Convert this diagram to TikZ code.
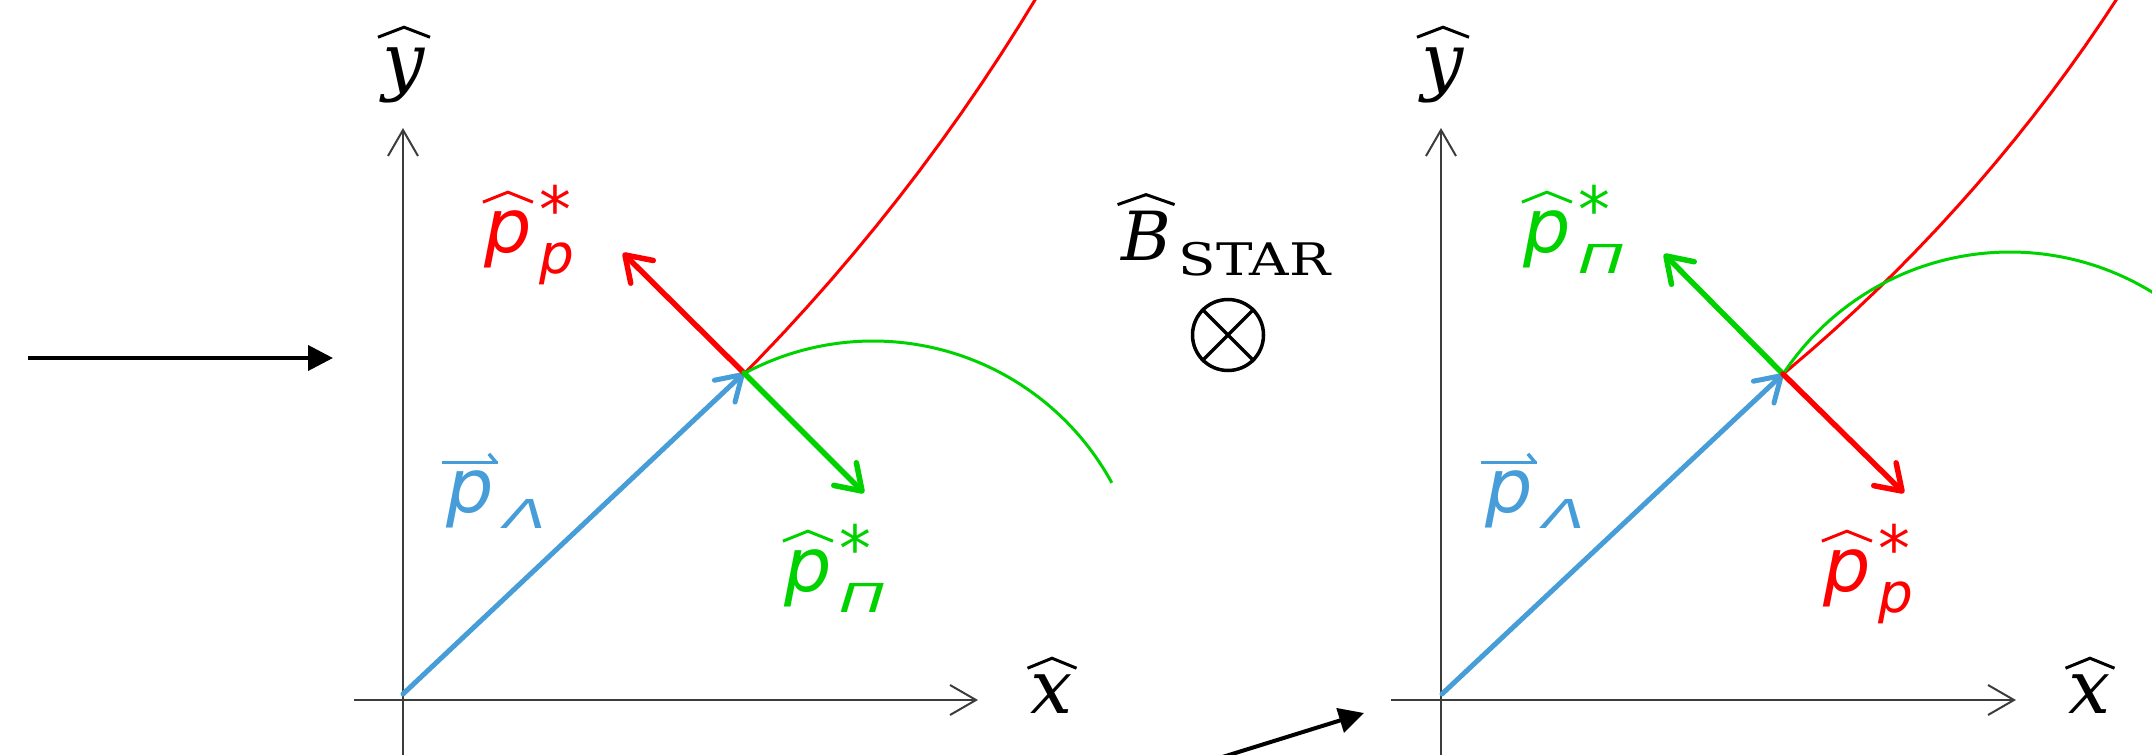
\RequirePackage{fix-cm}
\documentclass[tikz,border=0pt]{standalone}
\usepackage{fontspec}
\setmainfont{DejaVu Serif}
\newfontfamily\sansfnt{DejaVu Sans}
\usetikzlibrary{arrows.meta,calc}
\definecolor{pred}{RGB}{255,0,0}
\definecolor{pgreen}{RGB}{0,210,0}
\definecolor{pblue}{RGB}{70,157,216}
\definecolor{axisgray}{RGB}{60,60,60}
% accent laid over a base without changing its width: #1 gap, #2 accent, #3 base
\newcommand\overlay[3]{\setbox0\hbox{#3}\rlap{\hbox to \wd0{\hss\raisebox{\dimexpr\ht0+#1\relax}{#2}\hss}}\box0}
\newcommand\hatglyph[1]{\tikz[x=1bp,y=1bp,baseline=0pt]\draw[line width=3bp,line join=miter,line cap=butt] (0,0) -- ({#1/2},10) -- (#1,0);}
\newcommand\harpglyph{\hbox{\rule{56bp}{3.5bp}\llap{\rotatebox[origin=br]{-50}{\rule{12bp}{3.5bp}}}}}
\newcommand\gk[1]{{\fontsize{40}{40}\selectfont\scalebox{1.55}[1]{#1}}}
\newcommand\subp{{\fontsize{55}{55}\selectfont p}}
% p-hat with star and subscript: #1 kern, #2 subscript
\newcommand\hatp[2]{\overlay{8bp}{\hatglyph{50}}{p}\kern#1\rlap{\raisebox{20bp}{\upshape\fontsize{64}{64}\selectfont *}}\raisebox{-21bp}{#2}}
\newcommand\vecp[2]{\overlay{6bp}{\harpglyph}{p}\kern#1\raisebox{-16bp}{#2}}
\tikzset{
  axisline/.style={draw=axisgray, line width=2bp, -{Straight Barb[length=26bp,width=30bp]}},
  vecblue/.style={draw=pblue, line width=5bp, line cap=round, -{Straight Barb[length=24bp,width=30bp,round]}},
  vecred/.style={draw=pred, line width=5.5bp, line cap=round, -{Straight Barb[length=24bp,width=32bp,round]}},
  vecgreen/.style={draw=pgreen, line width=5.5bp, line cap=round, -{Straight Barb[length=24bp,width=32bp,round]}},
  trackred/.style={draw=pred, line width=3bp},
  trackgreen/.style={draw=pgreen, line width=3bp},
  bigarrow/.style={draw=black, line width=4bp, -{Triangle[length=25bp,width=25bp]}},
  axlabel/.style={font=\itshape\fontsize{75}{75}\selectfont, inner sep=0pt, anchor=base},
  plabel/.style={font=\sansfnt\itshape\fontsize{75}{75}\selectfont, inner sep=0pt, anchor=base west},
}
\begin{document}
\begin{tikzpicture}[x=1bp,y=-1bp]
\path[use as bounding box] (0,0) rectangle (2152,755);
\clip (0,0) rectangle (2152,755);
% ---------- coordinates, left panel
\coordinate (O1) at (403,694);
\coordinate (V1) at (744,373);
\coordinate (R1) at (623,253);
\coordinate (G1) at (864,493);
\coordinate (Y1b) at (403,760);
\coordinate (Y1t) at (403,128);
\coordinate (X1l) at (354,700);
\coordinate (X1t) at (978,700);
% ---------- coordinates, right panel
\coordinate (O2) at (1442,694);
\coordinate (V2) at (1783,374);
\coordinate (G2) at (1664,254);
\coordinate (R2) at (1904,493);
\coordinate (Y2b) at (1441,760);
\coordinate (Y2t) at (1441,128);
\coordinate (X2l) at (1391,700);
\coordinate (X2t) at (2016,700);
% ---------- black arrows
\coordinate (A1s) at (28,358);
\coordinate (A1t) at (333,358);
\coordinate (A2s) at (1200,764);
\coordinate (A2t) at (1364,713);
\draw[bigarrow] (A1s) -- (A1t);
\draw[bigarrow] (A2s) -- (A2t);
% ---------- axes
\draw[axisline] (X1l) -- (X1t);
\draw[axisline] (Y1b) -- (Y1t);
\draw[axisline] (X2l) -- (X2t);
\draw[axisline] (Y2b) -- (Y2t);
% ---------- tracks
\draw[trackred] plot[domain=44.56:30, samples=80, variable=\t] ({-698.2+2025.6*cos(\t)}, {-1048.3+2025.6*sin(\t)});
\draw[trackgreen] plot[domain=-118.1:-28.6, samples=80, variable=\t] ({873+272*cos(\t)}, {613+272*sin(\t)});
\draw[trackred] plot[domain=50.27:32, samples=80, variable=\t] ({712.1+1675.8*cos(\t)}, {-914.8+1675.8*sin(\t)});
\draw[trackgreen] plot[domain=-146.55:-40, samples=80, variable=\t] ({2010+272*cos(\t)}, {524+272*sin(\t)});
% ---------- vectors
\draw[vecblue] (O1) -- (V1);
\draw[vecred] (V1) -- (R1);
\draw[vecgreen] (V1) -- (G1);
\draw[vecblue] (O2) -- (V2);
\draw[vecgreen] (V2) -- (G2);
\draw[vecred] (V2) -- (R2);
% ---------- axis labels
\node[axlabel] (ylab1) at (404,87) {\overlay{11bp}{\hatglyph{52}}{y}};
\node[axlabel] (xlab1) at (1052,713) {\overlay{6bp}{\hatglyph{49}}{x}};
\node[axlabel] (ylab2) at (1443,87) {\overlay{11bp}{\hatglyph{52}}{y}};
\node[axlabel] (xlab2) at (2090,713) {\overlay{6bp}{\hatglyph{49}}{x}};
% ---------- momentum labels
\node[plabel, text=pred] (pp1) at (484,252) {\hatp{8bp}{\subp}};
\node[plabel, text=pgreen] (ppi1) at (784,591) {\hatp{8bp}{\gk{Π}}};
\node[plabel, text=pblue] (pl1) at (446,512) {\vecp{11bp}{\gk{Λ}}};
\node[plabel, text=pgreen] (ppi2) at (1523,252) {\hatp{8bp}{\gk{Π}}};
\node[plabel, text=pred] (pp2) at (1823,591) {\hatp{8bp}{\subp}};
\node[plabel, text=pblue] (pl2) at (1485,512) {\vecp{11bp}{\gk{Λ}}};
% ---------- magnetic field
\node[inner sep=0pt, anchor=base west, font=\fontsize{68}{68}\selectfont] (blab) at (1121,260)
  {\overlay{6bp}{\hatglyph{57}}{\itshape B}\kern8bp\raisebox{-15bp}{\fontsize{45}{45}\selectfont\scalebox{1.22}[1]{STAR}}};
\node[draw=black, line width=3.5bp, circle, inner sep=0pt, minimum size=71bp] (bfield) at (1228,335) {};
\draw[line width=3.5bp] (bfield.north west) -- (bfield.south east);
\draw[line width=3.5bp] (bfield.north east) -- (bfield.south west);
\end{tikzpicture}
\end{document}
